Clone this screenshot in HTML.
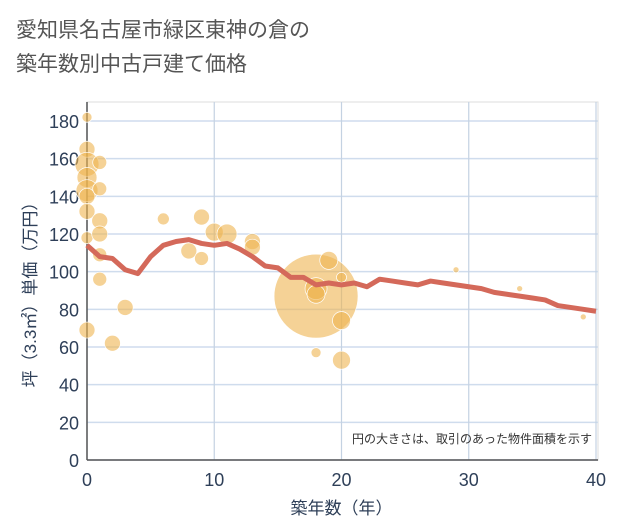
<!DOCTYPE html>
<html><head><meta charset="utf-8"><style>
body{margin:0;background:#fff;font-family:"Liberation Sans","Noto Sans CJK JP",sans-serif}
#wrap{position:relative;width:621px;height:530px;overflow:hidden;background:#fff}
.title{position:absolute;left:16px;top:14px;font-size:21px;line-height:34px;color:#555;font-family:"Liberation Sans","Noto Sans CJK JP",sans-serif}
</style></head><body>
<div id="wrap">
<div class="title">愛知県名古屋市緑区東神の倉の<br>築年数別中古戸建て価格</div>
<svg id="svg" width="621" height="530" style="position:absolute;left:0;top:0"></svg>
</div>
<script>
const yTicks=[0,20,40,60,80,100,120,140,160,180];
const xTicks=[0,10,20,30,40];
const lineYears=[0,1,2,3,4,5,6,7,8,9,10,11,12,13,14,15,16,17,18,19,20,21,22,23,24,25,26,27,28,29,30,31,32,33,34,35,36,37,38,39,40];
const lineValues=[114,108,107,101,99,108,114,116,117,115,114,115,112,108,103,102,97,97,93,94,93,94,92,96,95,94,93,95,94,93,92,91,89,88,87,86,85,82,81,80,79];
const bubbleYears=[0,0,0,0,0,0,0,0,0,1,1,1,1,1,1,2,3,6,8,9,9,10,11,13,13,18,18,18,19,20,20,20,18,29,34,39];
const bubbleValues=[182,165,157,150,143,140,132,118,69,158,144,127,120,109,96,62,81,128,111,129,107,121,120,116,113,87,91,88,106,74,53,97,57,101,91,76];
const bubbleSizes=[5,8,12,10,11,8,8,6,8,7,7,8,8,7,7,8,8,6,8,8,7,9,10,8,8,42,11,9,9,9,9,5,5,3,3,3];
const NS='http://www.w3.org/2000/svg';
const svg=document.getElementById('svg');
const X0=87,X1=596,Y0=460,Y1=121;
const xs=v=>X0+(X1-X0)*v/40;
const ys=v=>Y0-(Y0-Y1)*v/180;
const TC='#2e3f58';
function mk(t,a,p){const e=document.createElementNS(NS,t);for(const k in a)e.setAttribute(k,a[k]);(p||svg).appendChild(e);return e;}
const grid=mk('g',{});


mk('rect',{x:X0,y:102,width:X1-X0+2,height:Y0-102,fill:'none',stroke:'#ddd'},grid);
yTicks.forEach(t=>{
 const l=mk('line',{x1:X0,x2:X1+2,y1:ys(t),y2:ys(t),stroke:'#cfdced','stroke-width':1.5},grid);
 
 
 const tx=mk('text',{x:X0-8,y:ys(t)+7,'text-anchor':'end','font-size':18,fill:TC});
 tx.textContent=t;
 
 
});
xTicks.forEach(t=>{
 const l=mk('line',{x1:xs(t),x2:xs(t),y1:102,y2:Y0,stroke:'#c4d2e2','stroke-width':1.2},grid);
 
 
 const tx=mk('text',{x:xs(t),y:Y0+26,'text-anchor':'middle','font-size':18,fill:TC});
 tx.textContent=t;
 
 
});
mk('line',{x1:X0,x2:X0,y1:102,y2:Y0,stroke:'#555','stroke-width':1.5},grid);
mk('line',{x1:X0,x2:X1+2,y1:Y0,y2:Y0,stroke:'#555','stroke-width':1.5},grid);
const bg=mk('g',{});


bubbleYears.forEach((yr,i)=>{
 const c=mk('circle',{cx:xs(yr),cy:ys(bubbleValues[i]),r:bubbleSizes[i],fill:'rgba(238,180,80,0.6)',stroke:'#fff','stroke-width':0.7},bg);
 
 
});
const pl=mk('polyline',{points:lineYears.map((y,i)=>xs(y)+','+ys(lineValues[i])).join(' '),fill:'none',stroke:'#d4695a','stroke-width':5,'stroke-linejoin':'round'});


const note=mk('text',{x:592,y:443,'text-anchor':'end','font-size':12,fill:'#333'});
note.textContent='円の大きさは、取引のあった物件面積を示す';


const xt=mk('text',{x:(X0+X1)/2,y:514,'text-anchor':'middle','font-size':17,fill:TC});
xt.textContent='築年数（年）';


const yt=mk('text',{x:0,y:0,'text-anchor':'middle','font-size':17,fill:TC,transform:'translate(36,'+(Y0+Y1)/2+') rotate(-90)'});
yt.textContent='坪（3.3㎡）単価（万円）';


</script>
</body></html>
